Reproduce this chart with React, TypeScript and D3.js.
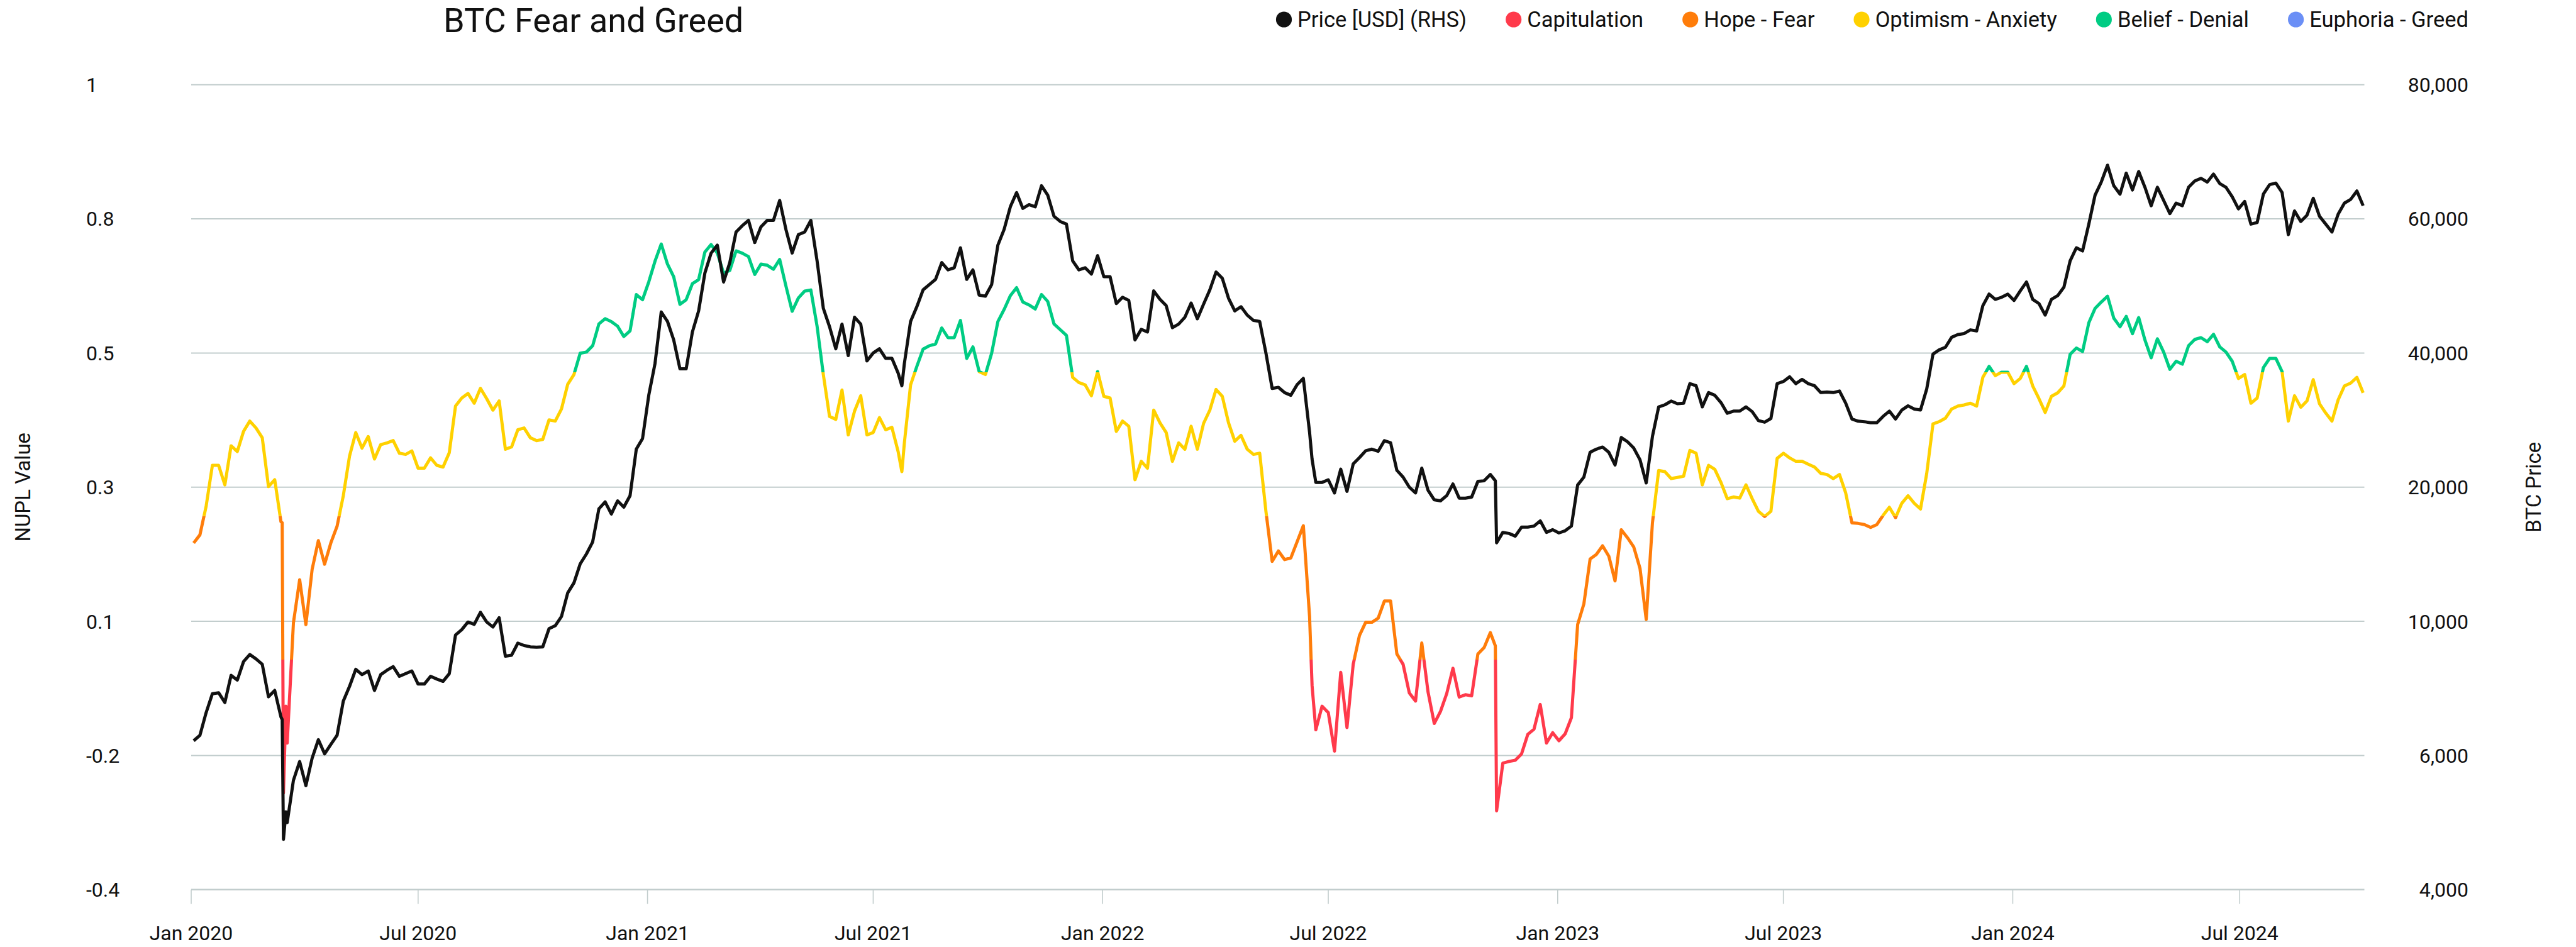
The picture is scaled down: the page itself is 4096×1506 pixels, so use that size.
import React, { useEffect, useRef } from "react";
import * as d3 from "d3";

// days counted from 1 Jan 2020
const days = [
	2, 7, 12, 17, 22, 27, 32, 37, 42, 47, 52, 57, 62, 67, 72, 73, 74, 76, 77, 82, 87, 92, 97, 102, 107, 112, 117, 122, 127, 132,
	137, 142, 147, 152, 157, 162, 167, 172, 177, 182, 187, 192, 197, 202, 207, 212, 217, 222, 227, 232, 237, 242, 247, 252, 257, 262, 267, 272, 277, 282,
	287,
	292, 297, 302, 307, 312, 317, 322, 327, 332, 337, 342, 347, 352, 357, 362, 367, 372, 377, 382, 387, 392, 397, 402, 407, 412, 417, 422, 427, 432, 437,
	442, 447, 452, 457, 462, 467, 472, 477, 482, 487, 492, 497, 502, 507, 512, 517, 522, 527, 532, 537, 542, 547, 552, 557, 562, 567, 570, 572, 577,
	582, 587, 592, 597, 602, 607, 612, 617, 622, 627, 632, 637, 642, 647, 652, 657, 662, 667, 672, 677, 682, 687, 692, 697, 702, 707, 712, 717, 722, 727,
	732, 737, 742, 747, 752, 757, 762, 767, 772, 777, 782, 787, 792, 797, 802, 807, 812, 817, 822, 827, 832, 837, 842, 847, 852, 857, 862, 867,
	872, 877, 882, 887, 892, 897, 899, 902, 907, 912, 917, 922, 927, 932, 937, 942, 947, 952, 957, 962, 967, 972, 977, 982, 987, 992, 997, 1002, 1007, 1012,
	1017, 1022, 1027, 1032, 1037, 1042, 1046, 1047, 1052, 1057, 1062, 1067, 1072, 1077, 1082, 1087, 1092, 1097, 1102, 1107, 1112, 1117, 1122, 1127, 1132, 1137,
	1142, 1147, 1152, 1157, 1162,
	1167, 1172, 1177, 1182, 1187, 1192, 1197, 1202, 1207, 1212, 1217, 1222, 1227, 1232, 1237, 1242, 1247, 1252, 1257, 1262, 1267, 1272, 1277, 1282, 1287, 1292,
	1297, 1302, 1307, 1312, 1317, 1322, 1327, 1332, 1337, 1342, 1347, 1352, 1357, 1362, 1367, 1372, 1377, 1382, 1387, 1392, 1397, 1402, 1407, 1412, 1417, 1422,
	1427, 1432, 1437, 1442, 1447, 1452,
	1457, 1462, 1467, 1472, 1477, 1482, 1487, 1492, 1497, 1502, 1507, 1512, 1517, 1522, 1527, 1532, 1537, 1542, 1547, 1552, 1557, 1562, 1567, 1572, 1577, 1582,
	1587, 1592, 1597, 1602, 1607, 1612, 1617, 1622, 1627, 1632, 1637, 1642, 1647, 1652, 1657, 1662, 1667, 1672, 1677, 1682, 1687, 1692, 1697, 1702, 1707, 1712,
	1717, 1722, 1727, 1732, 1737, 1742,
];

// BTC price (USD), right axis
const priceUsd = [
	6440, 6600, 7280, 7840, 7870, 7580, 8390, 8250, 8800, 9010, 8880, 8720, 7750, 7940, 7150, 7070, 4750, 5160, 5000, 5630, 5910, 5550, 5960, 6470, 6050,
	6330, 6600, 7620, 8060, 8570, 8410, 8520, 7940, 8410, 8540, 8650, 8360, 8440, 8520, 8130, 8130, 8360, 8280, 8210, 8440, 9590, 9750, 9980, 9910, 10670,
	9980, 9830, 10270, 8960, 8990, 9350, 9280, 9240, 9230, 9240, 9780,
	9870, 10360, 12120, 12870, 14280, 15020, 15920, 18390, 18900, 18000, 18980, 18510, 19370, 25670, 27240, 33700, 38430, 46120, 44710, 41960,
	37640, 37640, 43140, 46280, 51920, 54900, 56080, 50590, 53490, 58040, 58980, 59770, 56470, 58820, 59770, 59770, 62750, 58430, 54900, 57650,
	58040, 59770, 53730, 46670, 43920, 40630, 44310, 39610, 45330, 44310, 38820, 40000, 40630, 39210, 39210, 37010, 35120, 38430, 44710,
	46900, 49410, 50200, 50980, 53490, 52390, 52710, 55690, 50980, 52390, 48630, 48470, 50200, 56080, 58430, 61800, 63920, 61570, 62120, 61800,
	64940, 63530, 60390, 59610, 59220, 53730, 52390, 52710, 51770, 54510, 51370, 51370, 47370, 48310, 47840, 41960, 43530, 43140, 49260, 48000,
	47060, 43770, 44310, 45330, 47450, 45100, 47290, 49410, 52080, 51140, 48160, 46280, 46900, 45650, 44860, 44710, 40000, 34720,
	34880, 34100, 33700, 35280, 36220, 28190, 24170, 20710, 20710, 21100, 19570, 22680, 19690, 23470, 24410, 25430, 25670, 25350, 26930, 26610,
	22520, 21500, 20000, 19570, 22840, 19770, 19060, 18980, 19370, 20470, 19180, 19180, 19260, 20870, 20950, 21890, 20950, 15850, 16630, 16550,
	16350, 17020, 17020, 17100, 17490, 16630, 16830, 16590, 16750, 17100, 20320, 21500, 25200, 25670, 25980, 25200, 23310, 27400, 26770, 25830, 24090,
	20630, 27560, 31970, 32280, 32840, 32440, 32520, 35430, 35120, 31970, 34100, 33700, 32600, 31020, 31340, 31340, 31970, 31260, 29920, 29690,
	30240, 35430, 35750, 36460, 35430, 36060, 35430, 35120, 34100, 34170, 34100, 34330, 32520, 30160, 29840, 29760, 29610, 29610, 30550, 31340,
	30160, 31500, 32130, 31650, 31500, 34650, 39840, 40470, 40860, 42350, 42750, 42900, 43450, 43290, 47060, 48780, 48000, 48310,
	48780, 47840, 49260, 50590, 48000, 47370, 45650, 48000, 48550, 49800, 53730, 55690, 55220, 59220, 63530, 65490, 68000, 64940, 63690, 66820,
	64310, 67060, 64710, 61960, 64710, 62750, 60780, 62350, 61960, 64710, 65650, 66040, 65490, 66670, 65260, 64710, 63290, 61490, 62590, 59220,
	59450, 63690, 65100, 65330, 63920, 57650, 61180, 59610, 60550, 63060, 60390, 59220, 58040, 60710, 62350, 62900, 64160, 61960,
];

// NUPL, left axis
const nuplValue = [
	0.203, 0.217, 0.267, 0.338, 0.338, 0.304, 0.372, 0.362, 0.397, 0.415, 0.403, 0.386, 0.301, 0.313, 0.24, 0.238, -0.232, -0.081, -0.145, 0.064,
	0.139, 0.061, 0.157, 0.207, 0.166, 0.203, 0.232, 0.285, 0.354, 0.395, 0.368, 0.388, 0.349, 0.374, 0.377, 0.381, 0.359, 0.357, 0.363, 0.333,
	0.333, 0.351, 0.338, 0.335, 0.36, 0.441, 0.455, 0.463, 0.446, 0.472, 0.454, 0.434, 0.45, 0.366, 0.37, 0.4, 0.403, 0.386, 0.381, 0.383, 0.417,
	0.415, 0.436, 0.479, 0.496, 0.533, 0.535, 0.546, 0.584, 0.593, 0.588, 0.58, 0.562, 0.572, 0.635, 0.626, 0.657, 0.693, 0.723, 0.688, 0.666,
	0.618, 0.626, 0.654, 0.661, 0.709, 0.722, 0.707, 0.672, 0.677, 0.711, 0.707, 0.701, 0.67, 0.688, 0.686, 0.679, 0.696, 0.65, 0.606, 0.629,
	0.641, 0.643, 0.58, 0.496, 0.423, 0.418, 0.469, 0.391, 0.432, 0.459, 0.391, 0.395, 0.421, 0.4, 0.404, 0.362, 0.327, 0.377, 0.478,
	0.51, 0.54, 0.546, 0.549, 0.577, 0.56, 0.56, 0.59, 0.524, 0.544, 0.501, 0.496, 0.533, 0.588, 0.609, 0.633, 0.647, 0.622, 0.617, 0.61,
	0.635, 0.623, 0.584, 0.574, 0.564, 0.491, 0.482, 0.478, 0.459, 0.501, 0.458, 0.455, 0.397, 0.415, 0.406, 0.313, 0.345, 0.333, 0.434, 0.412,
	0.395, 0.345, 0.377, 0.366, 0.406, 0.366, 0.411, 0.434, 0.47, 0.458, 0.412, 0.38, 0.39, 0.366, 0.357, 0.359, 0.258, 0.171,
	0.189, 0.174, 0.177, 0.205, 0.233, 0.075, -0.045, -0.122, -0.081, -0.092, -0.159, -0.022, -0.118, -0.008, 0.042, 0.065, 0.065, 0.072, 0.102, 0.102,
	0.01, -0.008, -0.058, -0.072, 0.029, -0.056, -0.111, -0.09, -0.059, -0.015, -0.065, -0.061, -0.063, 0.01, 0.021, 0.047, 0.024, -0.263, -0.18, -0.177,
	-0.175, -0.164, -0.13, -0.121, -0.078, -0.145, -0.127, -0.141, -0.129, -0.101, 0.061, 0.097, 0.175, 0.183, 0.198, 0.18, 0.137, 0.226, 0.212, 0.196, 0.159,
	0.07, 0.238, 0.329, 0.327, 0.315, 0.317, 0.319, 0.364, 0.359, 0.304, 0.338, 0.331, 0.308, 0.28, 0.283, 0.281, 0.304, 0.28, 0.258, 0.249,
	0.258, 0.35, 0.359, 0.351, 0.345, 0.345, 0.34, 0.335, 0.324, 0.322, 0.315, 0.322, 0.29, 0.238, 0.237, 0.235, 0.23, 0.235, 0.251, 0.265,
	0.247, 0.272, 0.285, 0.272, 0.262, 0.324, 0.41, 0.414, 0.42, 0.436, 0.441, 0.443, 0.446, 0.441, 0.491, 0.51, 0.494, 0.5,
	0.5, 0.48, 0.489, 0.51, 0.476, 0.454, 0.43, 0.458, 0.464, 0.476, 0.531, 0.542, 0.536, 0.586, 0.611, 0.622, 0.632, 0.594, 0.579, 0.597,
	0.567, 0.595, 0.556, 0.525, 0.558, 0.535, 0.505, 0.519, 0.514, 0.546, 0.557, 0.56, 0.553, 0.566, 0.544, 0.535, 0.519, 0.489, 0.496, 0.446,
	0.455, 0.508, 0.524, 0.524, 0.501, 0.415, 0.459, 0.439, 0.45, 0.487, 0.445, 0.429, 0.415, 0.452, 0.476, 0.481, 0.491, 0.464,
];

// right axis: one tick per gridline, equally spaced
const priceTicks = [4000, 6000, 10000, 20000, 40000, 60000, 80000];
// left axis runs -0.4..1 in six equal steps, labels are rounded
const nuplTickLabels = ["-0.4", "-0.2", "0.1", "0.3", "0.5", "0.8", "1"];

const zoneNames = ["Capitulation", "Hope - Fear", "Optimism - Anxiety", "Belief - Denial", "Euphoria - Greed"];
const zoneEdges = [0, 0.25, 0.5, 0.75];
const zoneColors = ["#ff3a4b", "#ff7d0a", "#ffd100", "#00cc83", "#6b8ff6"];

const W = 4096;
const H = 1506;
const PLOT = { left: 304, right: 3759.5, top: 134.7, bottom: 1414.8 };
const INK = "#111111";
const GRID = "#c2cdcd";
const FONT = "Roboto, 'Liberation Sans', Arial, sans-serif";

export default function App() {
	const ref = useRef<SVGSVGElement>(null);

	useEffect(() => {
		const svg = d3.select(ref.current);
		svg.selectAll("*").remove();

		const start = new Date(2020, 0, 1);
		const dateOf = (d: number) => d3.timeDay.offset(start, d);
		const n = Math.min(days.length, priceUsd.length, nuplValue.length);
		const rows = d3.range(n).map((i) => ({ date: dateOf(days[i]), price: priceUsd[i], nupl: nuplValue[i] }));

		const x = d3
			.scaleTime()
			.domain([start, dateOf(days[n - 1] + 1)])
			.range([PLOT.left, PLOT.right]);
		const yNupl = d3.scaleLinear().domain([-0.4, 1]).range([PLOT.bottom, PLOT.top]);
		const gridPos = priceTicks.map(
			(_, i) => PLOT.bottom - (i * (PLOT.bottom - PLOT.top)) / (priceTicks.length - 1)
		);
		const yPrice = d3.scaleLinear().domain(priceTicks).range(gridPos);

		// gridlines
		svg.append("g")
			.selectAll("line")
			.data(gridPos.slice(1))
			.join("line")
			.attr("x1", PLOT.left)
			.attr("x2", PLOT.right)
			.attr("y1", (d) => d)
			.attr("y2", (d) => d)
			.attr("stroke", GRID)
			.attr("stroke-width", 2);

		// x axis
		const xTicks = x.ticks(d3.timeMonth.every(6)!);
		const gx = svg.append("g");
		gx.selectAll("line")
			.data(xTicks)
			.join("line")
			.attr("x1", (d) => x(d))
			.attr("x2", (d) => x(d))
			.attr("y1", PLOT.bottom)
			.attr("y2", PLOT.bottom + 22.7)
			.attr("stroke", GRID)
			.attr("stroke-width", 1.6);
		gx.append("line")
			.attr("x1", PLOT.left)
			.attr("x2", PLOT.right)
			.attr("y1", PLOT.bottom)
			.attr("y2", PLOT.bottom)
			.attr("stroke", GRID)
			.attr("stroke-width", 2.6);
		gx.selectAll("text")
			.data(xTicks)
			.join("text")
			.attr("x", (d) => x(d))
			.attr("y", 1494.5)
			.attr("text-anchor", "middle")
			.attr("font-family", FONT)
			.attr("font-size", 32)
			.attr("fill", INK)
			.text((d) => d3.timeFormat("%b %Y")(d));

		// left axis labels
		svg.append("g")
			.selectAll("text")
			.data(nuplTickLabels)
			.join("text")
			.attr("x", 137)
			.attr("y", (_, i) => gridPos[i] + 11.4)
			.attr("font-family", FONT)
			.attr("font-size", 32)
			.attr("fill", INK)
			.text((d) => d);

		// right axis labels
		svg.append("g")
			.selectAll("text")
			.data(priceTicks)
			.join("text")
			.attr("x", 3925)
			.attr("y", (d) => yPrice(d) + 11.4)
			.attr("text-anchor", "end")
			.attr("font-family", FONT)
			.attr("font-size", 32)
			.attr("fill", INK)
			.text((d) => d3.format(",")(d));

		// axis titles
		const midY = (PLOT.top + PLOT.bottom) / 2;
		svg.append("text")
			.attr("transform", `translate(48, ${midY}) rotate(-90)`)
			.attr("text-anchor", "middle")
			.attr("font-family", FONT)
			.attr("font-size", 33)
			.attr("fill", INK)
			.text("NUPL Value");
		svg.append("text")
			.attr("transform", `translate(4040, ${midY}) rotate(-90)`)
			.attr("text-anchor", "middle")
			.attr("font-family", FONT)
			.attr("font-size", 33)
			.attr("fill", INK)
			.text("BTC Price");

		// one horizontal band per NUPL zone, used to colour the line
		const defs = svg.append("defs");
		zoneColors.forEach((_, i) => {
			const top = i < zoneEdges.length ? yNupl(zoneEdges[i]) : 0;
			const bottom = i > 0 ? yNupl(zoneEdges[i - 1]) : H;
			defs.append("clipPath")
				.attr("id", `zone-${i}`)
				.append("rect")
				.attr("x", 0)
				.attr("width", W)
				.attr("y", top)
				.attr("height", bottom - top);
		});

		const nuplLine = d3
			.line<(typeof rows)[number]>()
			.x((d) => x(d.date))
			.y((d) => yNupl(d.nupl));
		const priceLine = d3
			.line<(typeof rows)[number]>()
			.x((d) => x(d.date))
			.y((d) => yPrice(d.price));

		const gl = svg.append("g");
		zoneColors.forEach((c, i) => {
			gl.append("path")
				.datum(rows)
				.attr("d", nuplLine)
				.attr("fill", "none")
				.attr("stroke", c)
				.attr("stroke-width", 5)
				.attr("stroke-linejoin", "round")
				.attr("clip-path", `url(#zone-${i})`);
		});
		gl.append("path")
			.datum(rows)
			.attr("d", priceLine)
			.attr("fill", "none")
			.attr("stroke", INK)
			.attr("stroke-width", 5)
			.attr("stroke-linejoin", "round");

		// title
		svg.append("text")
			.attr("x", 705)
			.attr("y", 51.4)
			.attr("font-family", FONT)
			.attr("font-size", 54)
			.attr("fill", INK)
			.text("BTC Fear and Greed");

		// legend, laid out from the right edge
		const legendLabels = ["Price [USD] (RHS)", ...zoneNames];
		const legendColors = [INK, ...zoneColors];
		const lg = svg.append("g");
		let cursor = 3925;
		for (let i = legendLabels.length - 1; i >= 0; i--) {
			const t = lg
				.append("text")
				.attr("y", 31 + 12)
				.attr("font-family", FONT)
				.attr("font-size", 34.5)
				.attr("fill", INK)
				.text(legendLabels[i]);
			const w = (t.node() as SVGTextElement).getComputedTextLength();
			const tx = cursor - w;
			t.attr("x", tx);
			lg.append("circle")
				.attr("cx", tx - 9 - 12.6)
				.attr("cy", 31)
				.attr("r", 12.6)
				.attr("fill", legendColors[i]);
			cursor = tx - 9 - 25.2 - 62;
		}
	}, []);

	return (
		<svg
			ref={ref}
			width={W}
			height={H}
			style={{ position: "absolute", left: 0, top: 0, display: "block", background: "#fff" }}
		/>
	);
}
